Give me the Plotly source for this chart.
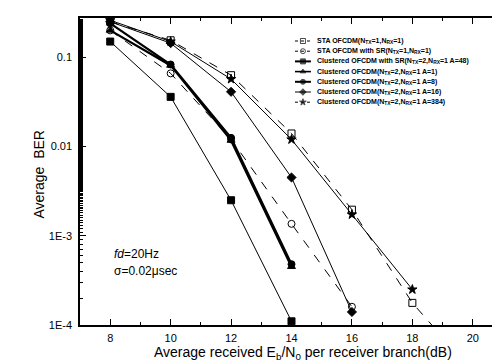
import plotly.graph_objects as go

snr_sta = [8, 10, 12, 14, 16, 18, 20]
ber_sta = [0.25, 0.155, 0.063, 0.014, 0.00196, 0.000177, 0.00003]

snr_sta_sr = [8, 10, 12, 14, 16]
ber_sta_sr = [0.2, 0.066, 0.012, 0.00136, 0.00016]

snr_cl_sr = [8, 10, 12, 14]
ber_cl_sr = [0.15, 0.036, 0.0025, 0.00011]

snr_a1 = [8, 10, 12, 14]
ber_a1 = [0.2, 0.081, 0.0117, 0.00045]

snr_a8 = [8, 10, 12, 14]
ber_a8 = [0.24, 0.083, 0.0125, 0.00048]

snr_a16 = [8, 10, 12, 14, 16]
ber_a16 = [0.25, 0.144, 0.041, 0.0045, 0.00014]

snr_a384 = [8, 10, 12, 14, 16, 18]
ber_a384 = [0.26, 0.15, 0.057, 0.012, 0.00173, 0.00025]

x_ticks = [8, 10, 12, 14, 16, 18, 20]
y_tickvals = [0.1, 0.01, 0.001, 0.0001]
y_ticktext = ["0.1", "0.01", "1E-3", "1E-4"]

names = [
    "STA OFCDM(N<sub>TX</sub>=1,N<sub>RX</sub>=1)",
    "STA OFCDM with SR(N<sub>TX</sub>=1,N<sub>RX</sub>=1)",
    "Clustered OFCDM with SR(N<sub>TX</sub>=2,N<sub>RX</sub>=1 A=48)",
    "Clustered OFCDM(N<sub>TX</sub>=2,N<sub>RX</sub>=1 A=1)",
    "Clustered OFCDM(N<sub>TX</sub>=2,N<sub>RX</sub>=1 A=8)",
    "Clustered OFCDM(N<sub>TX</sub>=2,N<sub>RX</sub>=1 A=16)",
    "Clustered OFCDM(N<sub>TX</sub>=2,N<sub>RX</sub>=1 A=384)",
]

# (x, y, marker symbol, plot dash, plot width, legend dash, legend width)
series = [
    (snr_sta, ber_sta, "square-open", "dash", 1, "dot", 1),
    (snr_sta_sr, ber_sta_sr, "circle-open", "dash", 1, "dot", 1),
    (snr_cl_sr, ber_cl_sr, "square", "solid", 1, "solid", 2),
    (snr_a1, ber_a1, "triangle-up", "solid", 2.2, "solid", 1.6),
    (snr_a8, ber_a8, "circle", "solid", 2.2, "solid", 2),
    (snr_a16, ber_a16, "diamond", "solid", 1, "solid", 1),
    (snr_a384, ber_a384, "star", "solid", 1, "dot", 1),
]

FONT = "Liberation Sans, Arial, sans-serif"

fig = go.Figure()
for (x, y, sym, dash, w, _, _), nm in zip(series, names):
    fig.add_trace(go.Scatter(
        x=x, y=y, name=nm, mode="lines+markers", showlegend=False,
        xaxis="x", yaxis="y",
        line=dict(color="black", width=w, dash=dash),
        marker=dict(symbol=sym, size=7, color="black",
                    line=dict(color="black", width=1)),
    ))

# ---- hand-built compact legend on an overlaid pixel-like axis pair ----
L, R, T, B = 72, 497, 10, 317          # plot area in pixels
key_x0, key_x1, text_x = 288, 304, 308  # legend key / label placement
row0, row_gap = 33, 10.2
for i, ((_, _, sym, _, _, ldash, lw), nm) in enumerate(zip(series, names)):
    ry = row0 + row_gap * i
    fig.add_trace(go.Scatter(
        x=[key_x0, (key_x0 + key_x1) / 2, key_x1], y=[ry, ry, ry],
        xaxis="x2", yaxis="y2", mode="lines+markers", showlegend=False,
        hoverinfo="skip",
        line=dict(color="black", width=lw, dash=ldash),
        marker=dict(symbol=sym, size=[0, 5, 0], color="black",
                    line=dict(color="black", width=1)),
    ))
    fig.add_annotation(x=text_x, y=ry, xref="x2", yref="y2",
                       xanchor="left", yanchor="middle", showarrow=False,
                       text="<b>" + nm + "</b>",
                       font=dict(family=FONT, size=7, color="black"))

axis_common = dict(
    showline=True, linecolor="black", linewidth=1.5, mirror="allticks",
    ticks="inside", ticklen=6, tickcolor="black", showgrid=False,
    zeroline=False,
    tickfont=dict(family=FONT, size=11, color="black"),
)

fig.update_layout(
    xaxis=dict(
        range=[7, 21], tickmode="array", tickvals=x_ticks,
        ticklabelstandoff=2,
        minor=dict(dtick=1, ticks="inside", ticklen=3, tickcolor="black",
                   showgrid=False),
        **axis_common,
    ),
    yaxis=dict(
        type="log", range=[-4, -0.56], tickmode="array",
        tickvals=y_tickvals, ticktext=y_ticktext,
        ticklabelstandoff=4,
        minor=dict(ticks="inside", ticklen=3, tickcolor="black", showgrid=False),
        **axis_common,
    ),
    xaxis2=dict(overlaying="x", anchor="y2", range=[L, R], visible=False,
                fixedrange=True, showgrid=False, zeroline=False),
    yaxis2=dict(overlaying="y", anchor="x2", range=[B, T], visible=False,
                fixedrange=True, showgrid=False, zeroline=False),
)

# axis titles
fig.add_annotation(x=0.527, y=-0.09, xref="paper", yref="paper",
                   xanchor="center", yanchor="middle", showarrow=False,
                   text="Average received E<sub>b</sub>/N<sub>0</sub> per receiver branch(dB)",
                   font=dict(family=FONT, size=14, color="black"))
fig.add_annotation(x=-0.097, y=0.49, xref="paper", yref="paper",
                   xanchor="center", yanchor="middle", showarrow=False,
                   textangle=-90, text="Average  BER",
                   font=dict(family=FONT, size=14, color="black"))

# condition text
fig.add_annotation(x=8.05, y=-3.2, xref="x", yref="y", xanchor="left",
                   yanchor="middle", text="<i>fd</i>=20Hz", showarrow=False,
                   font=dict(family=FONT, size=12, color="black"))
fig.add_annotation(x=8.05, y=-3.39, xref="x", yref="y", xanchor="left",
                   yanchor="middle", text="σ=0.02μsec", showarrow=False,
                   font=dict(family=FONT, size=12, color="black"))

fig.update_layout(
    width=500, height=364,
    margin=dict(l=L, r=500 - R, t=T, b=364 - B),
    paper_bgcolor="white", plot_bgcolor="white",
    showlegend=False,
)

fig.write_html("out.html")
